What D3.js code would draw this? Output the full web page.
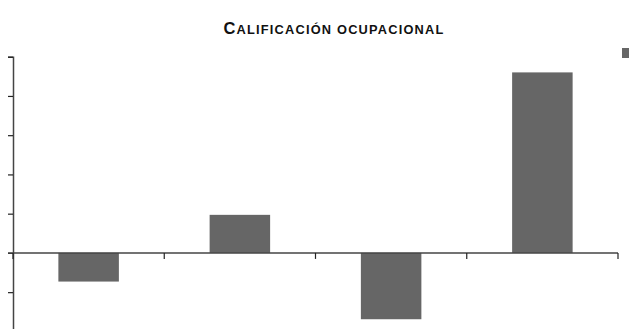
<!DOCTYPE html>
<html>
<head>
<meta charset="utf-8">
<script src="https://cdn.jsdelivr.net/npm/d3@7"></script>
<style>
  html, body { margin: 0; padding: 0; background: #fff; }
  svg { display: block; }
</style>
</head>
<body>
<svg id="chart" width="629" height="329"></svg>
<script>
// Chart data
const categories = ["A", "B", "C", "D"];
const values = [-0.73, 0.97, -1.69, 4.6];
const yTicks = [-2, -1, 0, 1, 2, 3, 4, 5];
const titleText = "Calificación ocupacional";

const svg = d3.select("#chart");

const x = d3.scaleBand()
  .domain(categories)
  .range([13, 618])
  .paddingInner(0.6)
  .paddingOuter(0.3);

const y = d3.scaleLinear()
  .domain([-2, 5])
  .range([331.4, 56.7]);

const barColor = "#666666";
const axisColor = "#444444";

// Bars
svg.append("g").selectAll("rect")
  .data(values)
  .join("rect")
  .attr("x", (d, i) => x(categories[i]))
  .attr("width", x.bandwidth())
  .attr("y", d => y(Math.max(0, d)))
  .attr("height", d => Math.abs(y(d) - y(0)))
  .attr("fill", barColor);

// Value axis (left)
const yAxis = d3.axisLeft(y).tickValues(yTicks).tickSize(5).tickFormat("");
const gy = svg.append("g").attr("transform", "translate(13,0)").call(yAxis);
gy.select(".domain").attr("stroke", axisColor).attr("stroke-width", 1.5);
gy.selectAll(".tick line").attr("stroke", "#222").attr("stroke-width", 1.2);

// Category axis along zero, ticks at band boundaries
const catEdges = d3.range(categories.length + 1).map(i => x.range()[0] + i * (x.range()[1] - x.range()[0]) / categories.length);
const gx = svg.append("g");
gx.append("line")
  .attr("x1", 8).attr("x2", 618)
  .attr("y1", y(0)).attr("y2", y(0))
  .attr("stroke", axisColor).attr("stroke-width", 1.5);
gx.selectAll("line.tk")
  .data(catEdges)
  .join("line")
  .attr("class", "tk")
  .attr("x1", d => d).attr("x2", d => d)
  .attr("y1", y(0)).attr("y2", y(0) + 6)
  .attr("stroke", "#222").attr("stroke-width", 1.2);

// Title in small caps
const title = svg.append("text")
  .attr("x", 334)
  .attr("y", 34)
  .attr("text-anchor", "middle")
  .attr("font-family", "'Liberation Sans Narrow', 'Arial Narrow', 'Liberation Sans', sans-serif")
  .attr("font-weight", "bold")
  .attr("letter-spacing", 1.2)
  .attr("fill", "#111");
title.append("tspan").attr("font-size", 16.5).text(titleText[0].toUpperCase());
title.append("tspan").attr("font-size", 12.8).text(titleText.slice(1).toUpperCase());

// Legend key
svg.append("rect")
  .attr("x", 622).attr("y", 48)
  .attr("width", 7).attr("height", 10)
  .attr("fill", barColor);
</script>
</body>
</html>
